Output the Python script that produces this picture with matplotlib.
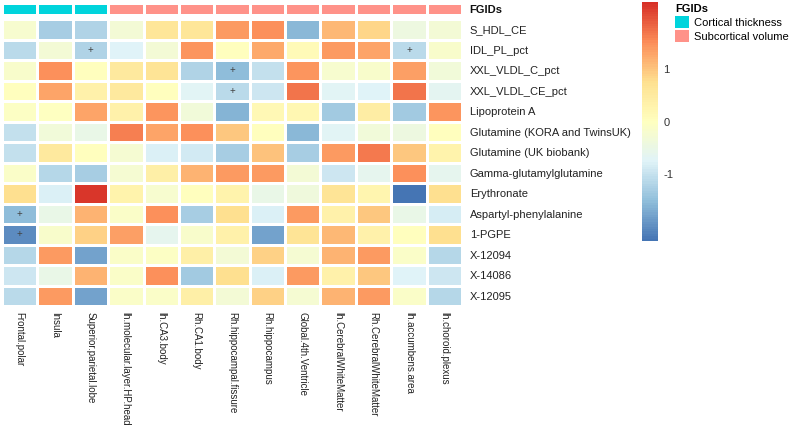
import numpy as np
import matplotlib
matplotlib.use('Agg')
import matplotlib.pyplot as plt
from matplotlib.colors import LinearSegmentedColormap, Normalize, ListedColormap
from matplotlib.patches import Patch

plt.rcParams['font.family'] = ['Liberation Sans', 'DejaVu Sans']

# --- data ---
metabolites = ['S_HDL_CE', 'IDL_PL_pct', 'XXL_VLDL_C_pct', 'XXL_VLDL_CE_pct',
               'Lipoprotein A', 'Glutamine (KORA and TwinsUK)', 'Glutamine (UK biobank)',
               'Gamma-glutamylglutamine', 'Erythronate', 'Aspartyl-phenylalanine',
               '1-PGPE', 'X-12094', 'X-14086', 'X-12095']
regions = ['Frontal.polar', 'Insula', 'Superior.parietal.lobe', 'lh.molecular.layer.HP.head',
           'lh.CA3.body', 'Rh.CA1.body', 'Rh.hippocampal.fissure', 'Rh.hippocampus',
           'Global.4th.Ventricle', 'lh.CerebralWhiteMatter', 'Rh.CerebralWhiteMatter',
           'lh.accumbens.area', 'lh.choroid.plexus']
fgids = ['Cortical thickness'] * 3 + ['Subcortical volume'] * 10

values = np.array([
    [-0.20, -1.30, -1.20, -0.30,  0.60,  0.60,  1.40,  1.50, -1.55,  1.10,  0.85, -0.45, -0.30],
    [-1.10, -0.30, -1.20, -0.75, -0.30,  1.45,  0.05,  1.25,  0.10,  1.40,  1.30, -1.10, -0.15],
    [-0.15,  1.50,  0.05,  0.55,  0.65, -1.20, -1.50, -1.00,  1.45, -0.20, -0.15,  1.35, -0.35],
    [ 0.03,  1.30,  0.35,  0.55,  0.05, -0.70, -1.10, -0.95,  1.70, -0.70, -0.75,  1.70, -0.65],
    [-0.05,  0.00,  1.30,  0.35,  1.45, -0.35, -1.60,  0.15,  0.20, -1.35,  0.45, -1.35,  1.45],
    [-1.00, -0.35, -0.50,  1.60,  1.30,  1.50,  1.00,  0.05, -1.55, -0.70, -0.35, -0.45,  0.03],
    [-1.00,  0.55,  0.05, -0.25, -0.80, -0.90, -1.30,  1.05, -1.30,  1.40,  1.65,  1.00,  0.30],
    [-0.10, -1.15, -1.30, -0.25,  0.40,  1.15,  1.40,  1.40, -0.30, -0.95, -0.60,  1.50, -0.60],
    [ 0.75, -0.80,  2.20,  0.30, -0.20,  0.02,  0.30, -0.50, -0.40,  0.65,  0.25, -2.27,  0.75],
    [-1.50, -0.50,  1.15, -0.10,  1.50, -1.30,  0.75, -0.80,  1.40,  0.35,  1.00, -0.50, -0.85],
    [-2.00, -0.15,  0.90,  1.35, -0.60, -0.15,  0.35, -1.80,  0.65,  1.10,  0.35,  0.02,  0.75],
    [-1.15,  1.40, -1.80, -0.10, -0.05,  0.40, -0.30,  0.90, -0.25,  1.15,  1.40, -0.10, -1.15],
    [-0.95, -0.50,  1.15, -0.10,  1.50, -1.35,  0.75, -0.80,  1.40,  0.35,  1.00, -0.75, -0.95],
    [-1.10,  1.40, -1.80, -0.10, -0.10,  0.40, -0.30,  0.90, -0.25,  1.15,  1.40, -0.10, -1.15],
])
# cells marked with "+" (row, col)
marked = [(1, 2), (1, 11), (2, 6), (3, 6), (9, 0), (10, 0)]

vmin, vmax = -2.27, 2.28
palette = ['#4575B4', '#91BFDB', '#E0F3F8', '#FFFFBF', '#FEE090', '#FC8D59', '#D73027']
cmap = LinearSegmentedColormap.from_list('rdylbu', palette, N=100)
fg_colors = {'Cortical thickness': '#00D4DC', 'Subcortical volume': '#FF9289'}

W, H = 789, 444
fig = plt.figure(figsize=(W / 100, H / 100), dpi=100)

def px_axes(x0, y0, x1, y1):
    return fig.add_axes([x0 / W, 1 - y1 / H, (x1 - x0) / W, (y1 - y0) / H])

# main heatmap
ax = px_axes(2, 19, 462, 306)
nr, nc = values.shape
ax.pcolormesh(np.arange(nc + 1), np.arange(nr + 1), values, cmap=cmap,
              norm=Normalize(vmin, vmax), edgecolors='white', linewidth=1.0)
ax.set_xlim(0, nc)
ax.set_ylim(nr, 0)
for s in ax.spines.values():
    s.set_visible(False)
for r, c in marked:
    ax.text(c + 0.5, r + 0.5, '+', ha='center', va='center', fontsize=7, color='#444444')

ax.yaxis.tick_right()
ax.set_yticks(np.arange(nr) + 0.5)
ax.set_yticklabels(metabolites, fontsize=8, color='#222222')
ax.set_xticks(np.arange(nc) + 0.5)
ax.set_xticklabels(regions, fontsize=7, color='#222222', rotation=270, ha='center', va='top')
ax.tick_params(length=0, pad=5.5)
ax.tick_params(axis='x', pad=4)

# annotation bar
ax_a = px_axes(2, 3, 462, 15)
fg_order = list(fg_colors.keys())
fg_idx = np.array([[fg_order.index(g) for g in fgids]])
ax_a.pcolormesh(np.arange(nc + 1), [0, 1], fg_idx,
                cmap=ListedColormap([fg_colors[k] for k in fg_order]),
                vmin=-0.5, vmax=1.5, edgecolors='white', linewidth=1.0)
ax_a.set_xlim(0, nc)
ax_a.set_xticks([])
ax_a.yaxis.tick_right()
ax_a.set_yticks([0.5])
ax_a.set_yticklabels(['FGIDs'], fontsize=8, fontweight='bold', color='#111111')
ax_a.tick_params(length=0, pad=5.5)
for s in ax_a.spines.values():
    s.set_visible(False)

# colorbar
cax = px_axes(642, 2, 658, 241)
sm = plt.cm.ScalarMappable(norm=Normalize(vmin, vmax), cmap=cmap)
cb = fig.colorbar(sm, cax=cax, ticks=[-1, 0, 1])
cb.outline.set_visible(False)
cb.ax.tick_params(length=0, labelsize=8, colors='#333333', pad=4)
cb.ax.set_yticklabels(['-1', '0', '1'])

# legend
handles = [Patch(facecolor=fg_colors[k], edgecolor='none', label=k) for k in fg_order]
leg = fig.legend(handles=handles, title='FGIDs', loc='upper left',
                 bbox_to_anchor=(667 / W, 1 + 4 / H), frameon=False, fontsize=8,
                 title_fontsize=8, handlelength=1.3, handleheight=1.3,
                 handletextpad=0.4, labelspacing=0.2, borderpad=0.2, alignment='left')
leg.get_title().set_fontweight('bold')

fig.savefig('out.png', dpi=100)
